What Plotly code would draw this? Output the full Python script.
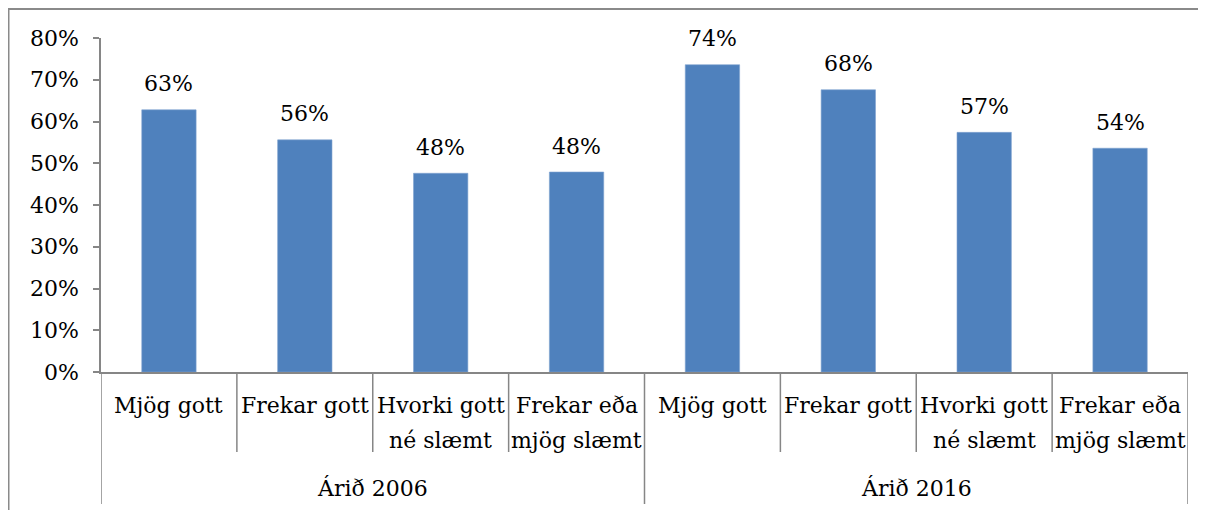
import plotly.graph_objects as go

groups = ["Árið 2006", "Árið 2016"]
categories = ["Mjög gott", "Frekar gott", "Hvorki gott<br>né slæmt", "Frekar eða<br>mjög slæmt"]
values_2006 = [62.8, 55.6, 47.6, 47.9]
values_2016 = [73.6, 67.6, 57.4, 53.6]

all_values = values_2006 + values_2016
all_cats = categories + categories
xs = list(range(len(all_values)))

FONT = "DejaVu Serif"
FS = 22
AXC = "#868686"

fig = go.Figure()
fig.add_trace(go.Bar(
    x=xs, y=all_values, width=0.4,
    marker=dict(color="#4F81BD", line=dict(color="#7FA3D0", width=0.6)),
    hoverinfo="skip",
))

annotations = []
# data labels
for x, v in zip(xs, all_values):
    annotations.append(dict(x=x, y=v, xref="x", yref="y", text=f"{round(v)}%",
                            showarrow=False, yanchor="middle", yshift=26,
                            font=dict(family=FONT, size=FS, color="black")))
# category labels (possibly two lines)
for x, c in zip(xs, all_cats):
    for k, line in enumerate(c.split("<br>")):
        annotations.append(dict(x=x, y=0, xref="x", yref="paper", text=line,
                                showarrow=False, yanchor="middle", yshift=-33 - 35 * k,
                                font=dict(family=FONT, size=FS, color="black")))
# group labels
n = len(categories)
for g, name in enumerate(groups):
    annotations.append(dict(x=g * n + (n - 1) / 2, y=0, xref="x", yref="paper", text=name,
                            showarrow=False, yanchor="middle", yshift=-116,
                            font=dict(family=FONT, size=FS, color="black")))

shapes = []
for b in range(len(all_values) + 1):
    long = (b % n == 0)
    shapes.append(dict(type="line", xref="x", yref="paper", x0=b - 0.5, x1=b - 0.5,
                       ysizemode="pixel", yanchor=0, y0=0, y1=-132 if long else -80,
                       line=dict(color=AXC, width=1.5)))
# outer border (top and left)
shapes.append(dict(type="line", xref="paper", yref="paper", x0=-0.2, x1=1.2,
                   ysizemode="pixel", yanchor=1, y0=29, y1=29,
                   line=dict(color="#8a8a8a", width=2)))
shapes.append(dict(type="line", xref="paper", yref="paper", y0=-1, y1=1.5,
                   xsizemode="pixel", xanchor=0, x0=-92.5, x1=-92.5,
                   line=dict(color="#8a8a8a", width=2)))

fig.update_layout(
    width=1198, height=502,
    margin=dict(l=93, r=18, t=30, b=138),
    paper_bgcolor="white", plot_bgcolor="white",
    showlegend=False,
    annotations=annotations, shapes=shapes,
    xaxis=dict(range=[-0.5, len(all_values) - 0.5], showticklabels=False, ticks="",
               showgrid=False, zeroline=False, showline=True, linecolor=AXC, linewidth=1.5,
               fixedrange=True),
    yaxis=dict(range=[0, 80], dtick=10, ticksuffix="%", ticks="outside", ticklen=6,
               tickcolor=AXC, tickwidth=1.5, showgrid=False, zeroline=False,
               showline=True, linecolor=AXC, linewidth=1.5, ticklabelstandoff=10,
               tickfont=dict(family=FONT, size=FS, color="black"), fixedrange=True),
)

fig.write_html("out.html")
